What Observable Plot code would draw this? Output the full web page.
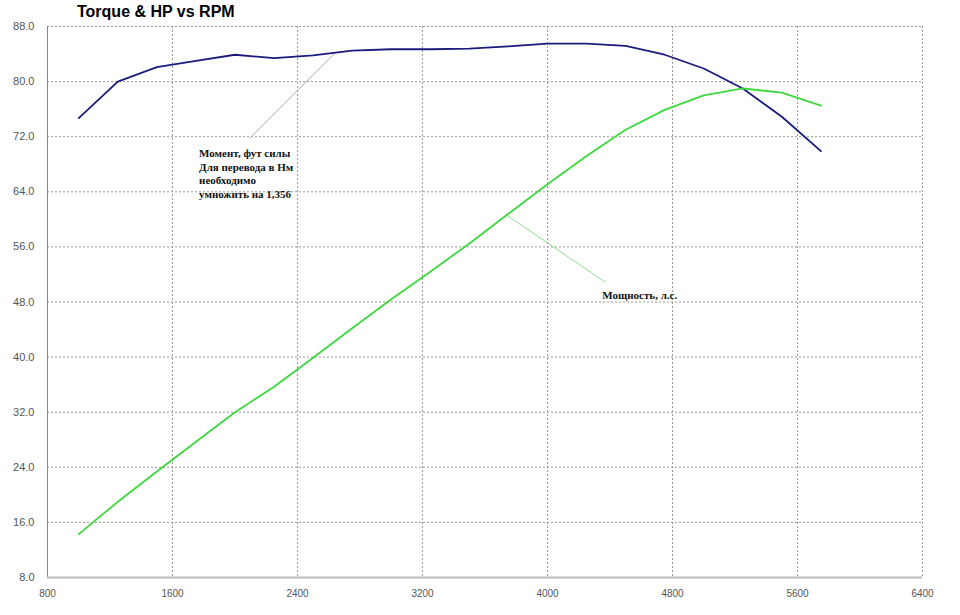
<!DOCTYPE html>
<html><head><meta charset="utf-8">
<script src="https://cdn.jsdelivr.net/npm/d3@7"></script>
<script src="https://cdn.jsdelivr.net/npm/@observablehq/plot@0.6"></script>
<style>
body{margin:0;background:#fff;}
#wrap{position:relative;width:960px;height:615px;}
#title{position:absolute;left:77px;top:3px;font:bold 16px Arial,"Liberation Sans",sans-serif;color:#000;}
#chart{position:absolute;left:0;top:0;}
</style></head><body>
<div id="wrap"><div id="chart"></div><div id="title"></div></div>
<script>
const titleText = "Torque & HP vs RPM";
const rpm    = [1000, 1250, 1500, 1750, 2000, 2250, 2500, 2750, 3000, 3250, 3500, 3750, 4000, 4250, 4500, 4750, 5000, 5250, 5500, 5750];
const torque = [74.7, 80.0, 82.1, 83.0, 83.9, 83.4, 83.8, 84.5, 84.7, 84.7, 84.8, 85.1, 85.5, 85.5, 85.2, 83.9, 81.9, 79.0, 74.9, 69.9];
const hp     = [14.3, 19.0, 23.4, 27.7, 32.0, 35.7, 39.9, 44.2, 48.4, 52.4, 56.5, 60.8, 65.1, 69.2, 73.0, 75.9, 78.0, 79.0, 78.4, 76.5];
const xTicks = [800, 1600, 2400, 3200, 4000, 4800, 5600, 6400];
const yTicks = [8, 16, 24, 32, 40, 48, 56, 64, 72, 80, 88];

const torqueNote = ["Момент, фут силы", "Для перевода в Нм", "необходимо", "умножить на 1,356"];
const hpNote = ["Мощность, л.с."];
// annotation anchors in data units: [rpm, value]
const torqueNoteAt = [1770, 70.4];
const torqueLeader = [[2095, 71.8], [2641, 84.2]];
const hpNoteAt = [4350, 49.8];
const hpLeader = [[4369, 50.9], [3740, 60.6]];

document.getElementById("title").textContent = titleText;

const data = rpm.map((r, i) => ({rpm: r, torque: torque[i], hp: hp[i]}));
const leaders = [
  {x1: torqueLeader[0][0], y1: torqueLeader[0][1], x2: torqueLeader[1][0], y2: torqueLeader[1][1], c: "#aaaaaa"},
  {x1: hpLeader[0][0], y1: hpLeader[0][1], x2: hpLeader[1][0], y2: hpLeader[1][1], c: "#8fdc8f"}
];
const notes = [
  {x: torqueNoteAt[0], y: torqueNoteAt[1], t: torqueNote.join("\n")},
  {x: hpNoteAt[0], y: hpNoteAt[1], t: hpNote.join("\n")}
];

const chart = Plot.plot({
  width: 960, height: 615,
  marginTop: 26, marginBottom: 38, marginLeft: 47, marginRight: 38,
  style: {fontFamily: "Arial, 'Liberation Sans', sans-serif", background: "transparent"},
  x: {domain: [800, 6400], ticks: xTicks, label: null},
  y: {domain: [8, 88], ticks: yTicks, label: null},
  marks: [
    Plot.ruleY(yTicks.filter(d => d > 8), {stroke: "#999", strokeDasharray: "2,2"}),
    Plot.ruleX(xTicks.filter(d => d > 800), {stroke: "#999", strokeDasharray: "2,2"}),
    Plot.ruleX([800], {stroke: "#888"}),
    Plot.ruleY([8], {stroke: "#bbb", strokeWidth: 2}),
    Plot.axisY({ticks: yTicks, tickSize: 0, tickPadding: 13, tickFormat: d => d.toFixed(1), fontSize: 11, fill: "#555", label: null}),
    Plot.axisX({ticks: xTicks, tickSize: 0, tickPadding: 12, tickFormat: "d", fontSize: 10, fill: "#555", label: null}),
    Plot.link(leaders, {x1: "x1", y1: "y1", x2: "x2", y2: "y2", stroke: "c", strokeWidth: 1}),
    Plot.line(data, {x: "rpm", y: "torque", stroke: "#1b1b7d", strokeWidth: 1.8}),
    Plot.line(data, {x: "rpm", y: "hp", stroke: "#3ed83e", strokeWidth: 1.8}),
    Plot.text(notes, {x: "x", y: "y", text: "t", textAnchor: "start", lineAnchor: "top", lineHeight: 1.23,
      fontFamily: "'Liberation Serif', 'Times New Roman', serif", fontWeight: "bold", fontSize: 11, fill: "#111"})
  ]
});
document.getElementById("chart").appendChild(chart);
</script>
</body></html>
